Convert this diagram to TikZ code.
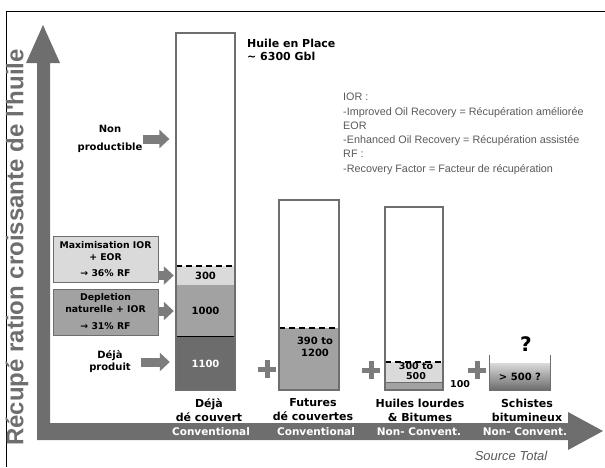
\documentclass[tikz,border=0pt]{standalone}
\usepackage{fontspec}
\setmainfont{DejaVu Sans}
\newfontfamily\axisfont{Liberation Sans}
\newfontfamily\notefont{Liberation Sans}
\usetikzlibrary{arrows.meta}

\definecolor{axisgray}{HTML}{6E6E6E}
\definecolor{darkfill}{HTML}{6C6C6C}
\definecolor{midfill}{HTML}{A2A2A2}
\definecolor{lightfill}{HTML}{DADADA}
\definecolor{arrowgray}{HTML}{7C7C7C}
\definecolor{notegray}{HTML}{595959}

\begin{document}
\begin{tikzpicture}[x=1pt, y=-1pt,
    bar/.style={draw=axisgray, line width=1.2pt, minimum width=59pt, inner sep=0pt},
    seg/.style={minimum width=59pt, inner sep=0pt, font=\bfseries\fontsize{10}{12}\selectfont},
    cutline/.style={line width=2pt, dash pattern=on 6pt off 4pt},
    fatarrow/.style={arrowgray, line width=9pt, -{Triangle[width=18pt, length=10pt]}},
    infobox/.style={draw=axisgray, line width=0.6pt, minimum width=105pt, minimum height=46pt, inner sep=0pt, align=center, font=\bfseries\fontsize{9.3}{12}\selectfont},
    sidelabel/.style={align=center, inner sep=0pt},
    catlabel/.style={align=center, inner sep=0pt, font=\bfseries\fontsize{11}{14}\selectfont},
    typelabel/.style={inner sep=0pt, text=white, font=\bfseries\fontsize{10.5}{12}\selectfont},
    plusmark/.style={arrowgray, line width=5pt}]

\useasboundingbox (0,0) rectangle (605,467);

% Cadre
\draw[line width=1pt] (6,467) -- (6,11) -- (605,11);

% Axes
\fill[axisgray] (37,63) -- (26,63) -- (43,25) -- (60,63) -- (50,63) -- (50,423) -- (568,423) -- (568,412) -- (603,431) -- (568,450) -- (568,440) -- (37,440) -- cycle;
\node[rotate=90, text=axisgray, font=\axisfont\bfseries\fontsize{24}{24}\selectfont] (yaxis) at (17,247.5) {Récupé ration croissante de l'huile};

% Deja decouvert
\node[seg, fill=lightfill, minimum height=19pt] (s300) at (205.5,275.5) {300};
\node[seg, fill=midfill, minimum height=52pt] (s1000) at (205.5,311) {1000};
\node[seg, fill=darkfill, minimum height=53pt, text=white] (s1100) at (205.5,363.5) {1100};
\draw[cutline] (s300.north west) -- (s300.north east);
\draw[line width=1.2pt] (s1100.north west) -- (s1100.north east);
\node[bar, minimum height=357pt] (deja) at (205.5,211.5) {};

% Futures decouvertes
\node[seg, fill=midfill, minimum width=60pt, minimum height=62pt] (sfut) at (309,359) {};
\draw[cutline] (sfut.north west) -- (sfut.north east);
\node[seg, align=center] (vfut) at (315,347) {390 to\\1200};
\node[bar, minimum width=60pt, minimum height=190pt] (futur) at (309,295) {};

% Huiles lourdes et bitumes
\node[seg, fill=lightfill, minimum width=58pt, minimum height=21pt] (sheavy) at (414,372.5) {};
\node[seg, fill=midfill, minimum width=58pt, minimum height=7pt] (sbit) at (414,386.5) {};
\draw[axisgray, line width=1pt] (sbit.north west) -- (sbit.north east);
\draw[cutline] (sheavy.north west) -- (sheavy.north east);
\node[seg, align=center, font=\bfseries\fontsize{9.5}{10}\selectfont] (vheavy) at (416,371) {300 to\\500};
\node[seg, minimum width=0pt, anchor=west, font=\bfseries\fontsize{9.5}{10}\selectfont] (vbit) at (450,384) {100};
\node[bar, minimum width=58pt, minimum height=183pt] (lourd) at (414,298.5) {};

% Schistes bitumineux
\node[seg, minimum width=60pt, minimum height=27pt, top color=lightfill, bottom color=darkfill] (sschist) at (520,376.5) {> 500 ?};
\draw[axisgray, line width=1.2pt] ([yshift=8pt]sschist.north west) -- (sschist.south west) -- (sschist.south east) -- ([yshift=8pt]sschist.north east);
\node[inner sep=0pt, font=\bfseries\fontsize{20}{20}\selectfont] (qmark) at (526,344) {?};

% Signes plus
\draw[plusmark] (258,369) -- (276,369) (267,360) -- (267,378);
\draw[plusmark] (362,370) -- (380,370) (371,361) -- (371,379);
\draw[plusmark] (468,370) -- (486,370) (477,361) -- (477,379);

% Legendes du bas
\node[catlabel] (catA) at (209,410) {Déjà\\dé couvert};
\node[catlabel] (catB) at (313,410) {Futures\\dé couvertes};
\node[catlabel] (catC) at (420,410) {Huiles lourdes\\\& Bitumes};
\node[catlabel] (catD) at (527,410) {Schistes\\bitumineux};
\node[typelabel] (typeA) at (211,432) {Conventional};
\node[typelabel] (typeB) at (316,432) {Conventional};
\node[typelabel] (typeC) at (419,432) {Non- Convent.};
\node[typelabel] (typeD) at (525,432) {Non- Convent.};

% Etiquettes de gauche
\node[sidelabel, font=\bfseries\fontsize{10}{18}\selectfont] (nonprod) at (110,139) {Non\\productible};
\node[infobox, fill=lightfill] (maxbox) at (105.5,259) {Maximisation IOR\\+ EOR\\[4pt]→ 36\% RF};
\node[infobox, fill=midfill] (deplbox) at (105.5,312) {Depletion\\naturelle + IOR\\[5pt]→ 31\% RF};
\node[sidelabel, font=\bfseries\fontsize{10}{12}\selectfont] (dejaprod) at (110,362) {Déjà\\produit};

% Fleches
\draw[fatarrow, shorten >=6pt] (nonprod.east) -- (nonprod.east -| deja.west);
\draw[fatarrow, shorten >=2pt] (maxbox.east |- s300.west) -- (s300.west);
\draw[fatarrow, shorten >=2pt] (deplbox.east |- s1000.west) -- (s1000.west);
\draw[fatarrow, shorten <=10pt, shorten >=6pt] (dejaprod.east) -- (dejaprod.east -| s1100.west);

% Textes
\node[anchor=north west, align=left, inner sep=0pt, font=\bfseries\fontsize{11}{12.5}\selectfont] (inplace) at (247,39) {Huile en Place\\\textasciitilde\ 6300 Gbl};
\node[anchor=north west, align=left, inner sep=0pt, text=notegray, font=\notefont\fontsize{10.8}{14.3}\selectfont] (notes) at (343,93) {IOR :\\-Improved Oil Recovery = Récupération améliorée\\EOR\\-Enhanced Oil Recovery = Récupération assistée\\RF :\\-Recovery Factor = Facteur de récupération};
\node[text=notegray, font=\notefont\itshape\fontsize{13}{13}\selectfont] (source) at (511,456) {Source Total};
\end{tikzpicture}
\end{document}
